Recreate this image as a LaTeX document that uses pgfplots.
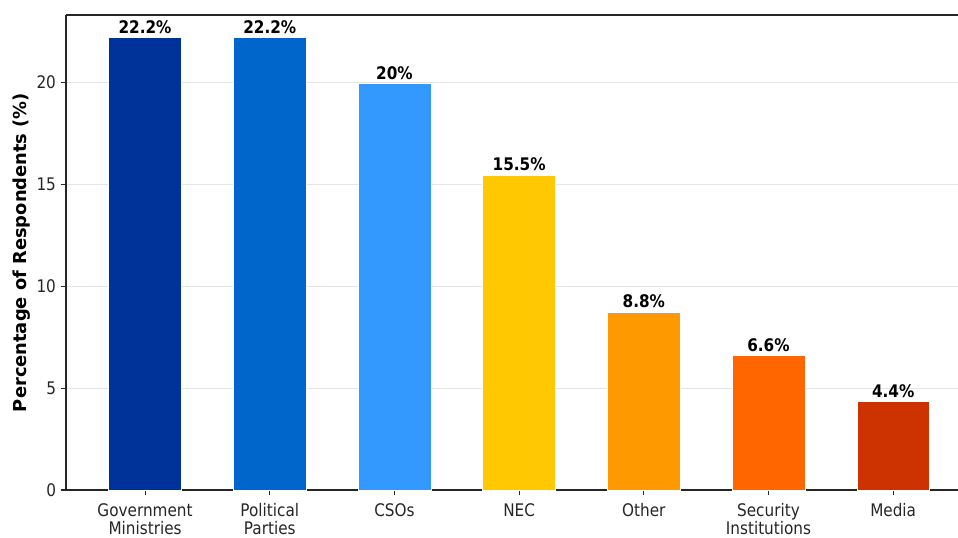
\documentclass[border=0pt]{standalone}
\usepackage{fontspec}
\setmainfont{DejaVu Sans}[FakeStretch=0.88]
\newfontfamily\labelfont{DejaVu Sans}
\usepackage{pgfplots}
\pgfplotsset{compat=1.18}
\definecolor{c1}{HTML}{003399}
\definecolor{c2}{HTML}{0066CC}
\definecolor{c3}{HTML}{3399FF}
\definecolor{c4}{HTML}{FFC800}
\definecolor{c5}{HTML}{FF9900}
\definecolor{c6}{HTML}{FF6600}
\definecolor{c7}{HTML}{CC3300}
\begin{document}
\begin{tikzpicture}
\begin{axis}[
  scale only axis,
  width=669pt, height=356.25pt,
  xmin=-0.634, xmax=6.52,
  ymin=0, ymax=23.31,
  axis x line=bottom, axis y line=left,
  axis line style={-, line width=0.9pt, black!85},
  xtick={0,1,2,3,4,5,6},
  xticklabels={{Government\\Ministries},{Political\\Parties},{CSOs},{NEC},{Other},{Security\\Institutions},{Media}},
  xticklabel style={align=center, font=\fontsize{13}{13.5}\selectfont, text=black!85, yshift=-2.5pt},
  ytick={0,5,10,15,20},
  yticklabel style={font=\fontsize{13}{14}\selectfont, text=black!85},
  /pgf/number format/assume math mode=true,
  tick align=outside,
  major tick length=4pt,
  tick style={black!85, line width=0.8pt},
  xtick pos=bottom, ytick pos=left,
  ymajorgrids,
  grid style={gray!20, line width=0.75pt},
  ylabel={\labelfont\bfseries Percentage of Respondents (\%)},
  ylabel style={font=\fontsize{13.4}{15}\selectfont, at={(axis description cs:-0.0493,0.5)}, anchor=center},
  ybar, bar width=0.585, bar shift=0pt,
  point meta=explicit symbolic,
  nodes near coords,
  nodes near coords style={font=\fontsize{13}{14}\selectfont\bfseries, text=black, inner sep=2.8pt, anchor=south},
  every axis plot/.append style={draw=white, line width=0.3pt},
]
\addplot[fill=c1] coordinates {(0,22.2) [22.2\%]};
\addplot[fill=c2] coordinates {(1,22.2) [22.2\%]};
\addplot[fill=c3] coordinates {(2,19.95) [20\%]};
\addplot[fill=c4] coordinates {(3,15.45) [15.5\%]};
\addplot[fill=c5] coordinates {(4,8.75) [8.8\%]};
\addplot[fill=c6] coordinates {(5,6.6) [6.6\%]};
\addplot[fill=c7] coordinates {(6,4.35) [4.4\%]};
\coordinate (tl) at (rel axis cs:0,1);
\coordinate (tr) at (rel axis cs:1,1);
\coordinate (br) at (rel axis cs:1,0);
\end{axis}
\draw[line width=0.9pt, black!85] (tl) -- (tr);
\pgfresetboundingbox
\path ([shift={(-49.5pt,11.25pt)}]tl) rectangle ([shift={(0pt,-35.5pt)}]br);
\end{tikzpicture}
\end{document}
